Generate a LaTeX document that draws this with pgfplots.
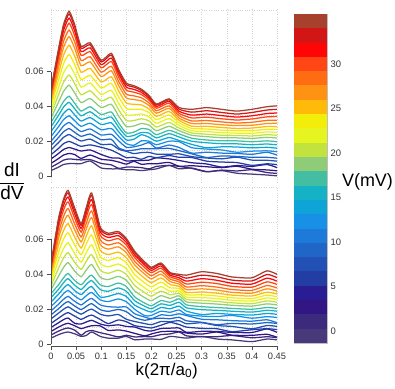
\documentclass[border=0pt]{standalone}
\usepackage{pgfplots}
\pgfplotsset{compat=1.18}
\usepackage{pgfplotstable}
\usepackage{amsmath}
\usepackage{fontspec}
\setmainfont{Liberation Sans}

% discrete colour levels, c1 = lowest bias, c23 = highest
\definecolor{c1}{HTML}{48397A}
\definecolor{c2}{HTML}{3C2A7C}
\definecolor{c3}{HTML}{321684}
\definecolor{c4}{HTML}{2A1C92}
\definecolor{c5}{HTML}{233EA2}
\definecolor{c6}{HTML}{2250B4}
\definecolor{c7}{HTML}{2066C6}
\definecolor{c8}{HTML}{1E7AD8}
\definecolor{c9}{HTML}{1890E6}
\definecolor{c10}{HTML}{0EA4D8}
\definecolor{c11}{HTML}{14B2C4}
\definecolor{c12}{HTML}{44BEA2}
\definecolor{c13}{HTML}{8ECC78}
\definecolor{c14}{HTML}{C2E23E}
\definecolor{c15}{HTML}{E6F420}
\definecolor{c16}{HTML}{F2EE0A}
\definecolor{c17}{HTML}{FFBA0A}
\definecolor{c18}{HTML}{FF9212}
\definecolor{c19}{HTML}{FF6C12}
\definecolor{c20}{HTML}{FF4614}
\definecolor{c21}{HTML}{FF0606}
\definecolor{c22}{HTML}{D21616}
\definecolor{c23}{HTML}{A8402E}

% dI/dV in units of 0.001
\pgfplotstableread{
k c1 c2 c3 c4 c5 c6 c7 c8 c9 c10 c11 c12 c13 c14 c15 c16 c17 c18 c19 c20 c21 c22 c23
0 3.5 5.4 7.6 10.1 12.6 15.3 17.8 20.3 23.0 25.8 28.5 31 33.5 35.8 38.0 40.3 42.4 44.3 45.8 47.3 48.5 49.4 50
0.015 5.5 7.8 10.4 13.3 16.2 19.5 22.4 25.3 28.6 31.8 35.1 38 42.6 46.8 51.0 55.2 59.0 62.5 65.3 68.1 70.2 72.0 73
0.025 7 9.5 12.4 15.6 18.9 22.5 25.7 29.0 32.6 36.2 39.8 43 48.7 54 59.3 64.6 69.4 73.8 77.3 80.8 83.5 85.7 87
0.036 7.5 10.2 13.3 16.7 20.2 24.1 27.5 31.0 34.8 38.7 42.5 46 52.3 58.1 63.9 69.8 75.1 80.0 83.8 87.7 90.6 93.0 94.5
0.047 7.5 9.9 12.7 15.8 18.9 22.3 25.4 28.5 32.0 35.4 38.9 42 47.9 53.3 58.7 64.1 69 73.5 77.1 80.7 83.4 85.7 87
0.06 7.5 9.6 10.5 14.7 17.4 20.4 23.1 25.8 28.8 31.8 34.8 37.5 42.3 46.8 51.2 55.6 59.7 63.4 66.4 69.3 71.5 73.4 74.5
0.078 9 9.8 12.4 15.3 18.2 21.5 24.4 27.3 30.6 33.8 37.1 40 44.7 49.1 53.5 57.9 61.9 65.6 68.5 71.4 73.6 75.4 76.5
0.1 5 7.6 10 12.7 16.8 18.4 21.1 23.8 26.8 29.8 32.8 35.5 39.5 43.3 47 50.7 54.1 57.2 59.7 62.2 64 65.6 66.5
0.12 4.5 6.8 9.4 10.8 15.2 18.5 21.4 24.3 27.6 30.8 34.1 37 41.4 45.4 49.4 53.4 57.1 60.5 63.1 65.8 67.8 69.5 70.5
0.135 4.5 4.8 8.4 10.7 13.1 15.7 16.5 20.4 23.0 25.6 28.2 30.5 34.5 38.1 41.8 45.4 48.8 51.9 54.3 56.7 58.6 60.1 61
0.15 4 5.5 7.2 9.0 10.9 14.5 14.9 16.8 18.9 21.0 23.1 25 28.7 32.1 35.5 39.0 42.1 45 47.2 49.5 51.2 52.6 53.5
0.165 4 5.5 8.8 9.2 11.1 13.2 15.2 17.1 18.0 21.4 23.6 25.5 29 32.1 35.3 38.5 41.4 44.1 46.2 48.3 49.9 51.2 52
0.18 3.5 5.2 7.1 9.3 10.0 13.8 16.0 18.1 20.5 24.0 25.3 27.5 30.4 33.1 35.8 38.5 41 43.3 45.1 46.9 48.2 49.3 50
0.195 4 4.5 7.5 9.5 11.6 13.9 16.0 19.5 20.3 22.6 24.9 27 29.5 31.9 34.2 36.6 38.7 40.7 42.2 43.8 44.9 45.9 46.5
0.21 4.5 5.9 7.4 10.8 10.9 12.9 16.0 16.4 18.3 20.3 22.2 24 26.3 28.4 30.5 32.6 34.5 36.3 37.7 39.1 40.1 41.0 41.5
0.235 6.5 6.5 8.2 10.2 12.1 12.8 16.2 18.1 20.3 22.4 24.6 26.5 28.8 31 33.2 35.3 37.3 39.1 40.5 42 43.1 44.0 44.5
0.255 4.5 5.9 6.0 9.3 11.1 13.1 14.9 16.7 20.0 20.7 22.7 24.5 26.3 27.8 29.3 30.8 32.2 33.5 34.9 36.2 37.4 38.6 39.5
0.28 5 4.8 6.3 8.0 11.0 11.5 13.1 13.5 16.6 18.5 20.3 22 23.7 25 26.3 27.6 28.9 30.4 31.9 33.6 35.2 36.9 38.5
0.31 3 2.8 5.7 7.3 8.9 10.7 11.0 14 15.8 16.5 19.4 21 22.9 24.3 25.8 27.3 28.8 30.4 32.1 34 35.8 37.7 39.5
0.34 3.5 3.8 5.2 5.5 8.4 10.2 11.9 13.5 15.3 17.1 18.9 20.5 22.3 23.7 25.2 26.6 28.1 29.7 31.3 33.1 34.9 36.7 38.5
0.37 2 3.3 6.0 6.4 8.1 11.2 11.6 13.3 14.0 17 18.8 20.5 22.2 23.6 24.9 26.3 27.6 29.2 30.7 32.4 34.1 35.8 37.5
0.4 1.5 4.0 4.3 5.9 6.5 9.5 11.1 12.8 14.6 16.5 18.3 20 21.9 23.3 24.8 26.3 27.8 29.4 31.1 33 34.8 36.7 38.5
0.43 1 2.4 3.9 7.0 7.4 9.4 11.1 14.0 14.8 16.8 18.7 20.5 22.5 24 25.6 27.1 28.7 30.4 32.2 34.2 36.1 38.1 40
0.45 0.5 1.9 3.4 5.2 6.9 8.9 10.6 12.4 14.3 16.3 18.2 20 22.1 23.7 25.3 27 28.6 30.5 32.3 34.4 36.4 38.5 40.5
}\toptab

\pgfplotstableread{
k c1 c2 c3 c4 c5 c6 c7 c8 c9 c10 c11 c12 c13 c14 c15 c16 c17 c18 c19 c20 c21 c22 c23
0 3.5 5.3 7.3 9.6 11.9 14.5 16.8 19.1 21.6 24.2 26.7 29 31.2 33.3 35.3 37.3 39.2 40.9 42.3 43.6 44.6 45.5 46
0.015 5.5 7.5 9.8 12.3 14.9 17.8 20.3 22.9 25.7 28.6 31.4 34 38.9 43.5 48.1 52.6 56.8 60.6 63.6 66.7 69 70.9 72
0.025 6.5 8.7 11.2 14.1 16.9 20.0 22.9 25.7 28.9 32.0 35.2 38 43.9 49.3 54.7 60.1 65 69.5 73.1 76.7 79.4 81.7 83
0.034 7 9.3 12.0 15.0 18.1 21.4 24.4 27.4 30.8 34.1 37.5 40.5 46.7 52.4 58.1 63.8 69 73.8 77.6 81.4 84.2 86.6 88
0.047 6 8.1 10.6 12.0 16.1 19.1 21.9 24.6 27.7 30.7 33.8 36.5 41.9 46.9 51.9 56.8 61.4 65.6 68.9 72.2 74.7 76.8 78
0.06 4.5 5.2 8.9 11.6 14.2 17.2 19.8 22.5 25.4 28.4 31.3 34 38.6 42.8 47 51.2 55 58.5 61.3 64.1 66.2 68 69
0.07 5 7.2 9.8 12.7 15.6 18.8 21.6 24.5 27.7 30.9 34.1 37 42.3 47.3 52.2 57.1 61.6 65.7 69 72.3 74.7 76.8 78
0.081 7 7.9 10.6 13.7 16.7 20.1 23.2 26.2 29.6 33.0 36.4 39.5 45.6 51.3 56.9 62.5 67.7 72.4 76.2 79.9 82.7 85.1 86.5
0.098 4.5 6.6 10.5 11.6 14.2 17.2 19.8 22.5 25.4 27.0 31.3 34 38.3 42.3 46.2 50.2 53.8 57.1 59.7 62.4 64.4 66 67
0.114 3.5 5.6 7.9 10.6 11.8 16.2 18.8 21.5 24.4 27.4 30.3 33 37 40.6 44.3 47.9 51.3 54.4 56.8 59.2 61.1 62.6 63.5
0.134 3.5 4.2 8.2 11.1 13.9 17.0 19.9 21.2 25.9 29.0 32.2 35 38.8 42.4 45.9 49.5 52.7 55.7 58 60.4 62.1 63.6 64.5
0.15 4.5 5.1 7.5 10.2 12.9 14.3 18.6 21.3 24.3 27.3 30.3 33 36.6 39.9 43.2 46.5 49.5 52.3 54.5 56.7 58.3 59.7 60.5
0.167 2.5 4.2 6.2 9.8 10.6 13.0 15.2 17.4 19.9 22.3 24.8 27 30.4 33.5 36.6 39.7 42.6 45.2 47.3 49.4 50.9 52.2 53
0.187 3 4.4 4.8 7.9 9.8 11.8 13.7 15.5 16.3 19.6 21.7 23.5 26.6 29.4 32.2 35 37.6 40 41.8 43.7 45.1 46.3 47
0.2 3 4.3 5.9 7.6 9.3 11.2 14.5 14.6 16.5 18.4 20.3 22 24.9 27.5 30.1 32.8 35.2 37.4 39.2 40.9 42.2 43.3 44
0.219 2.8 5.5 7.2 9.0 10.9 13.0 14.9 16.8 18.9 21.0 23.1 25 27.8 30.4 33 35.5 37.9 40.1 41.8 43.5 44.8 45.9 46.5
0.237 4.5 5.9 7.4 9.2 12.5 12.9 14.6 16.4 18.3 20.3 22.2 24 26.2 28.3 30.3 32.3 34.2 35.9 37.3 38.6 39.6 40.5 41
0.255 4 7.0 7.3 9.3 11.3 13.5 15.4 17.4 19.6 21.8 24.0 26 27.7 29.1 30.5 31.9 33.1 34.4 35.7 36.9 38 39.2 40
0.27 3.5 4.8 6.4 6.8 9.8 11.7 13.4 16.4 17 18.9 20.8 22.5 24.2 25.6 26.9 28.3 29.6 31.2 32.7 34.4 36.1 37.8 39.5
0.3 4.5 4.3 5.8 7.4 9.1 12.3 12.6 14.3 16.1 17.0 19.8 21.5 23.5 25.1 26.7 28.3 29.9 31.7 33.5 35.5 37.5 39.5 41.5
0.33 3 4.3 7.0 7.3 8.9 10.7 11.2 14.0 15.8 17.6 19.4 21 23 24.5 26.1 27.6 29.2 31 32.7 34.7 36.6 38.6 40.5
0.36 2.5 5.0 5.2 6.8 7.2 10.2 11.9 13.5 16.5 17.1 18.9 20.5 22.3 23.7 25.2 26.6 28.1 29.7 31.3 33.1 34.9 36.7 38.5
0.4 1.5 3.7 5.1 6.7 8.3 8.8 11.6 13.2 14.9 16.7 18.4 20 21.8 23.2 24.7 26.1 27.6 29.2 30.8 32.6 34.4 36.2 38
0.43 3 4.3 5.7 8.8 8.9 10.7 12.4 14.0 15.8 17.6 19.4 21 23.1 24.8 26.5 28.1 29.8 31.7 33.6 35.7 37.8 39.9 42
0.45 2.5 3.8 4.0 6.8 8.4 10.2 11.9 12.3 15.3 17.1 18.9 20.5 22.5 24 25.6 27.1 28.7 30.4 32.2 34.2 36.1 38.1 40
}\bottab

\pgfplotsset{
  panel/.style={
    scale only axis, anchor=south west, width=226bp,
    xmin=0, xmax=0.45,
    axis line style={draw=none},
    clip mode=individual,
    tick pos=left, tick align=outside,
    major tick length=4bp, minor tick length=0pt,
    tick style={black!70, line width=0.5bp},
    xtick={0,0.05,0.1,0.15,0.2,0.25,0.3,0.35,0.4,0.45},
    ytick={0,20,40,60}, yticklabels={0,0.02,0.04,0.06},
    xmajorgrids, yminorgrids,
    minor grid style={dotted, gray!35, line width=0.4bp},
    major grid style={dotted, gray!35, line width=0.4bp},
    ticklabel style={font=\fontsize{9.3}{10}\selectfont, text=black!80},
    every axis plot/.append style={line width=1.25bp, smooth, tension=0.35},
  },
}

\begin{document}
\begin{tikzpicture}
\path[use as bounding box] (0,0) rectangle (395bp,389bp);

% upper panel
\begin{axis}[panel, at={(51bp,207bp)}, height=173bp,
  ymin=-3, ymax=95.8,
  minor ytick={15,35,55,75,95},
  xticklabels={}, xtick style={draw=none}]
\pgfplotsinvokeforeach{1,...,23}{
  \addplot[c#1] table[x=k, y=c#1] {\toptab};
}
\draw[black!70, line width=0.5bp] (axis cs:0,0) -- (axis cs:0,60);
\end{axis}

% lower panel
\begin{axis}[panel, at={(51bp,43bp)}, height=160bp,
  ymin=-1, ymax=90.5,
  minor ytick={10,30,50,70,90},
  xticklabels={0,0.05,0.1,0.15,0.2,0.25,0.3,0.35,0.4,0.45}]
\pgfplotsinvokeforeach{1,...,23}{
  \addplot[c#1] table[x=k, y=c#1] {\bottab};
}
\draw[black!70, line width=0.5bp] (axis cs:0,0) -- (axis cs:0,60);
\draw[black!70, line width=0.5bp] (rel axis cs:0,0) -- (rel axis cs:1,0);
\end{axis}

% colour scale
\begin{axis}[at={(294bp,46bp)}, anchor=south west, scale only axis,
  width=33bp, height=329bp,
  xmin=0, xmax=1, ymin=-1.35, ymax=35.6,
  axis line style={gray!50, line width=0.4bp},
  xtick=\empty, ytick={0,5,10,15,20,25,30},
  yticklabels={0,5,10,15,20,25,30},
  yticklabel pos=right, ytick style={draw=none},
  ticklabel style={font=\fontsize{9.5}{10}\selectfont, text=black!80}]
\addplot[fill=c1, draw=none] coordinates {(0,-1.35) (1,-1.35) (1,0.26) (0,0.26)};
\addplot[fill=c2, draw=none] coordinates {(0,0.26) (1,0.26) (1,1.86) (0,1.86)};
\addplot[fill=c3, draw=none] coordinates {(0,1.86) (1,1.86) (1,3.47) (0,3.47)};
\addplot[fill=c4, draw=none] coordinates {(0,3.47) (1,3.47) (1,5.08) (0,5.08)};
\addplot[fill=c5, draw=none] coordinates {(0,5.08) (1,5.08) (1,6.68) (0,6.68)};
\addplot[fill=c6, draw=none] coordinates {(0,6.68) (1,6.68) (1,8.29) (0,8.29)};
\addplot[fill=c7, draw=none] coordinates {(0,8.29) (1,8.29) (1,9.90) (0,9.90)};
\addplot[fill=c8, draw=none] coordinates {(0,9.90) (1,9.90) (1,11.50) (0,11.50)};
\addplot[fill=c9, draw=none] coordinates {(0,11.50) (1,11.50) (1,13.11) (0,13.11)};
\addplot[fill=c10, draw=none] coordinates {(0,13.11) (1,13.11) (1,14.72) (0,14.72)};
\addplot[fill=c11, draw=none] coordinates {(0,14.72) (1,14.72) (1,16.32) (0,16.32)};
\addplot[fill=c12, draw=none] coordinates {(0,16.32) (1,16.32) (1,17.93) (0,17.93)};
\addplot[fill=c13, draw=none] coordinates {(0,17.93) (1,17.93) (1,19.54) (0,19.54)};
\addplot[fill=c14, draw=none] coordinates {(0,19.54) (1,19.54) (1,21.14) (0,21.14)};
\addplot[fill=c15, draw=none] coordinates {(0,21.14) (1,21.14) (1,22.75) (0,22.75)};
\addplot[fill=c16, draw=none] coordinates {(0,22.75) (1,22.75) (1,24.36) (0,24.36)};
\addplot[fill=c17, draw=none] coordinates {(0,24.36) (1,24.36) (1,25.96) (0,25.96)};
\addplot[fill=c18, draw=none] coordinates {(0,25.96) (1,25.96) (1,27.57) (0,27.57)};
\addplot[fill=c19, draw=none] coordinates {(0,27.57) (1,27.57) (1,29.18) (0,29.18)};
\addplot[fill=c20, draw=none] coordinates {(0,29.18) (1,29.18) (1,30.78) (0,30.78)};
\addplot[fill=c21, draw=none] coordinates {(0,30.78) (1,30.78) (1,32.39) (0,32.39)};
\addplot[fill=c22, draw=none] coordinates {(0,32.39) (1,32.39) (1,34.00) (0,34.00)};
\addplot[fill=c23, draw=none] coordinates {(0,34.00) (1,34.00) (1,35.60) (0,35.60)};
\end{axis}

\node[font=\fontsize{19}{22}\selectfont, inner sep=0pt] at (12bp,208bp)
  {$\displaystyle\frac{\text{dI}}{\text{dV}}$};
\node[font=\fontsize{17}{20}\selectfont] at (166.7bp,18bp) {k(2π/a\textsubscript{0})};
\node[font=\fontsize{18}{21}\selectfont] at (367.5bp,207.3bp) {V(mV)};
\end{tikzpicture}
\end{document}
